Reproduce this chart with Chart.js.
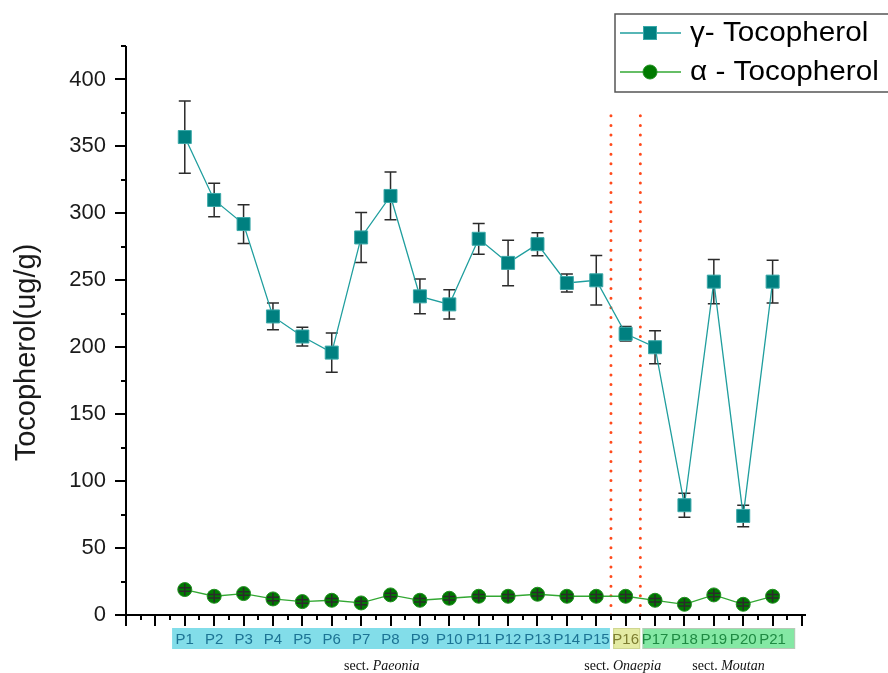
<!DOCTYPE html>
<html><head><meta charset="utf-8">
<script src="https://cdn.jsdelivr.net/npm/chart.js@4/dist/chart.umd.min.js"></script>
<style>html,body{margin:0;padding:0;background:#fff;overflow:hidden;}</style>
</head><body>
<canvas id="c" width="888" height="673"></canvas>
<script>
// ---- data ----
const categories = ['P1','P2','P3','P4','P5','P6','P7','P8','P9','P10','P11','P12','P13','P14','P15','P16','P17','P18','P19','P20','P21'];
const gammaLabel = 'γ- Tocopherol';
const alphaLabel = 'α - Tocopherol';
const gammaValues = [357, 310, 292, 223, 208, 196, 282, 313, 238, 232, 281, 263, 277, 248, 250, 210, 200, 82, 249, 74, 249];
const gammaErrors = [27, 12.5, 14.5, 10, 7, 14.7, 18.7, 17.8, 13, 11, 11.5, 17, 8.6, 6.7, 18.5, 5.4, 12.3, 9, 16.5, 8, 16];
const alphaValues = [19, 14, 16, 12, 10, 11, 9, 15, 11, 12.5, 14, 14, 15.5, 14, 14, 14, 11, 8, 15, 8, 14];
const alphaErrors = [1.3, 1.3, 1.3, 1.3, 1.3, 1.3, 1.3, 1.3, 1.3, 1.3, 1.3, 1.3, 1.3, 1.3, 1.3, 1.3, 1.3, 1.3, 1.3, 1.3, 1.3];
const sectionNames = ['Paeonia', 'Onaepia', 'Moutan'];
const sectionFirst = [0, 15, 16];
const sectionLast = [14, 15, 20];
const dividerValues = [14.5, 15.5];
const dividerTop = 378;
const yTitle = 'Tocopherol(ug/g)';

// ---- styles ----
const FONT = '"Liberation Sans", Arial, sans-serif';
const SERIF = '"Liberation Serif", "Times New Roman", serif';
const sectionStyle = {
  fill: ['#82dde9', '#e4eba4', '#84e8a4'],
  stroke: ['#82dde9', '#cfd690', '#b8c8b8'],
  text: ['#1c7394', '#7d7d30', '#1e8a42'],
  padL: [12.5, 12.5, 12.5],
  padR: [13.5, 14.5, 22.5],
  labelAt: [6.7, 14.9, 18.5]
};
const gammaStyle = {line: '#1f9e9e', fill: '#008080', edge: '#3aa8a8'};
const alphaStyle = {line: '#33a833', fill: '#007a00', edge: '#1f8f1f'};

function sectionOf(i) {
  for (let s = 0; s < sectionNames.length; s++) if (i >= sectionFirst[s] && i <= sectionLast[s]) return s;
  return -1;
}

const pts = (vals) => vals.map((v, i) => ({x: i, y: v}));

function drawErr(chart, meta, ds) {
  const ctx = chart.ctx, ys = chart.scales.y;
  ctx.save();
  ctx.strokeStyle = '#2b2b2b';
  ctx.lineWidth = 1.5;
  meta.data.forEach((pt, i) => {
    const v = ds.data[i].y, e = ds.errors[i];
    const x = pt.x;
    const yt = ys.getPixelForValue(v + e), yb = ys.getPixelForValue(v - e);
    const sm = ds.stemMin || 0;
    const st = Math.min(yt, pt.y - sm), sb = Math.max(yb, pt.y + sm);
    const cw = ds.capHalf || 6;
    ctx.beginPath();
    ctx.moveTo(x, st); ctx.lineTo(x, sb);
    ctx.moveTo(x - cw, yt); ctx.lineTo(x + cw, yt);
    ctx.moveTo(x - cw, yb); ctx.lineTo(x + cw, yb);
    ctx.stroke();
  });
  ctx.restore();
}

const errorBars = {
  id: 'errorBars',
  beforeDatasetDraw(chart, args) {
    const ds = chart.data.datasets[args.index];
    if (ds.errors && !ds.errorsOnTop) drawErr(chart, args.meta, ds);
  },
  afterDatasetDraw(chart, args) {
    const ds = chart.data.datasets[args.index];
    if (ds.errors && ds.errorsOnTop) drawErr(chart, args.meta, ds);
  }
};

const decor = {
  id: 'decor',
  beforeDraw(chart) {
    const ctx = chart.ctx, xs = chart.scales.x;
    ctx.save();
    for (let s = 0; s < sectionNames.length; s++) {
      const x0 = xs.getPixelForValue(sectionFirst[s]) - sectionStyle.padL[s];
      const x1 = xs.getPixelForValue(sectionLast[s]) + sectionStyle.padR[s];
      const y0 = xs.top + 13, h = 21;
      ctx.fillStyle = sectionStyle.fill[s];
      ctx.fillRect(x0, y0, x1 - x0, h);
      ctx.strokeStyle = sectionStyle.stroke[s];
      ctx.lineWidth = 1;
      ctx.strokeRect(x0 + 0.5, y0 + 0.5, x1 - x0 - 1, h - 1);
    }
    ctx.restore();
  },
  afterDraw(chart) {
    const ctx = chart.ctx, xs = chart.scales.x, ys = chart.scales.y;
    const ca = chart.chartArea;
    ctx.save();
    // axis ticks
    ctx.strokeStyle = '#000';
    ctx.lineWidth = 2;
    ctx.beginPath();
    for (let v = xs.min; v <= xs.max + 1e-9; v += 0.5) {
      const x = Math.round(xs.getPixelForValue(v));
      const len = Number.isInteger(v) ? 11 : 5;
      ctx.moveTo(x, ca.bottom); ctx.lineTo(x, ca.bottom + len);
    }
    for (let v = ys.min; v <= ys.max + 1e-9; v += 25) {
      const y = Math.round(ys.getPixelForValue(v));
      const len = (v % 50 === 0) ? 11 : 5;
      ctx.moveTo(ca.left, y); ctx.lineTo(ca.left - len, y);
    }
    ctx.stroke();
    // axis lines
    ctx.beginPath();
    ctx.moveTo(ca.left, ca.top); ctx.lineTo(ca.left, ca.bottom + 1);
    ctx.moveTo(ca.left - 1, ca.bottom); ctx.lineTo(ca.right + 4, ca.bottom);
    ctx.stroke();

    // section labels
    ctx.fillStyle = '#111';
    ctx.textBaseline = 'middle';
    ctx.textAlign = 'left';
    for (let s = 0; s < sectionNames.length; s++) {
      const a = 'sect. ', b = sectionNames[s];
      ctx.font = '14px ' + SERIF;
      const wa = ctx.measureText(a).width;
      ctx.font = 'italic 14px ' + SERIF;
      const wb = ctx.measureText(b).width;
      const cx = xs.getPixelForValue(sectionStyle.labelAt[s]);
      const x0 = cx - (wa + wb) / 2;
      const y = xs.top + 51;
      ctx.font = '14px ' + SERIF;
      ctx.fillText(a, x0, y);
      ctx.font = 'italic 14px ' + SERIF;
      ctx.fillText(b, x0 + wa, y);
    }

    // y title
    ctx.save();
    ctx.translate(27, (ca.top + ca.bottom) / 2 + 22);
    ctx.rotate(-Math.PI / 2);
    ctx.font = '29px ' + FONT;
    ctx.fillStyle = '#1a1a1a';
    ctx.textAlign = 'center';
    ctx.textBaseline = 'middle';
    ctx.fillText(yTitle, 0, 0);
    ctx.restore();

    // legend
    const lx = 615, ly = 14, lw = 300, lh = 78;
    ctx.fillStyle = '#fff';
    ctx.fillRect(lx, ly, lw, lh);
    ctx.strokeStyle = '#555';
    ctx.lineWidth = 1.5;
    ctx.strokeRect(lx, ly, lw, lh);
    const items = [
      {ds: chart.data.datasets[0], y: 33, st: gammaStyle, shape: 'rect'},
      {ds: chart.data.datasets[1], y: 72, st: alphaStyle, shape: 'circle'}
    ];
    items.forEach(it => {
      ctx.strokeStyle = it.st.line;
      ctx.lineWidth = 1.5;
      ctx.beginPath(); ctx.moveTo(620, it.y); ctx.lineTo(681, it.y); ctx.stroke();
      ctx.fillStyle = it.st.fill;
      ctx.strokeStyle = it.st.edge;
      ctx.lineWidth = 1;
      if (it.shape === 'rect') {
        ctx.fillRect(650 - 6.5, it.y - 6.5, 13, 13);
        ctx.strokeRect(650 - 6.5, it.y - 6.5, 13, 13);
      } else {
        ctx.beginPath(); ctx.arc(650, it.y, 7, 0, Math.PI * 2); ctx.fill(); ctx.stroke();
      }
      ctx.save();
      ctx.translate(690, it.y + 1);
      ctx.scale(1.1, 1);
      ctx.fillStyle = '#000';
      ctx.font = '27px ' + FONT;
      ctx.textAlign = 'left';
      ctx.textBaseline = 'middle';
      ctx.fillText(it.ds.label, 0, 0);
      ctx.restore();
    });
    ctx.restore();
  }
};

new Chart(document.getElementById('c'), {
  type: 'line',
  data: {
    datasets: [
      {
        label: gammaLabel,
        data: pts(gammaValues),
        errors: gammaErrors,
        errorsOnTop: false,
        capHalf: 6,
        borderColor: gammaStyle.line,
        borderWidth: 1.3,
        pointStyle: 'rect',
        pointRadius: 9.2,
        pointBackgroundColor: gammaStyle.fill,
        pointBorderColor: gammaStyle.edge,
        pointBorderWidth: 1,
        tension: 0,
        order: 1
      },
      {
        label: alphaLabel,
        data: pts(alphaValues),
        errors: alphaErrors,
        errorsOnTop: true,
        stemMin: 6,
        capHalf: 6,
        borderColor: alphaStyle.line,
        borderWidth: 1.3,
        pointStyle: 'circle',
        pointRadius: 7,
        pointBackgroundColor: alphaStyle.fill,
        pointBorderColor: alphaStyle.edge,
        pointBorderWidth: 1,
        tension: 0,
        order: 0
      },
      ...dividerValues.map(v => ({
        label: '',
        data: [{x: v, y: 0}, {x: v, y: dividerTop}],
        borderColor: '#ff4a1c',
        borderWidth: 3,
        borderDash: [0, 9.6],
        borderCapStyle: 'round',
        pointRadius: 0,
        order: 2
      }))
    ]
  },
  options: {
    responsive: false,
    devicePixelRatio: 1,
    animation: false,
    events: [],
    layout: {padding: {left: 0, right: 86, top: 46, bottom: 0}},
    plugins: {legend: {display: false}, tooltip: {enabled: false}, title: {display: false}},
    scales: {
      x: {
        type: 'linear',
        min: -2, max: 21,
        grid: {display: false, drawTicks: false, tickLength: 0},
        border: {display: false},
        afterFit: (s) => { s.height = 58; },
        ticks: {
          stepSize: 1,
          autoSkip: false,
          maxRotation: 0,
          padding: 16,
          font: {family: FONT, size: 15},
          color: (c) => { const s = sectionOf(c.tick.value); return s >= 0 ? sectionStyle.text[s] : '#000'; },
          callback: (v) => (Number.isInteger(v) && v >= 0 && v < categories.length) ? categories[v] : ''
        }
      },
      y: {
        type: 'linear',
        min: 0, max: 425,
        grid: {display: false, drawTicks: false, tickLength: 0},
        border: {display: false},
        afterFit: (s) => { s.width = 126; },
        ticks: {
          stepSize: 25,
          padding: 20,
          font: {family: FONT, size: 22},
          color: '#1a1a1a',
          callback: (v) => (v % 50 === 0) ? String(v) : ''
        }
      }
    }
  },
  plugins: [errorBars, decor]
});
</script>
</body></html>
